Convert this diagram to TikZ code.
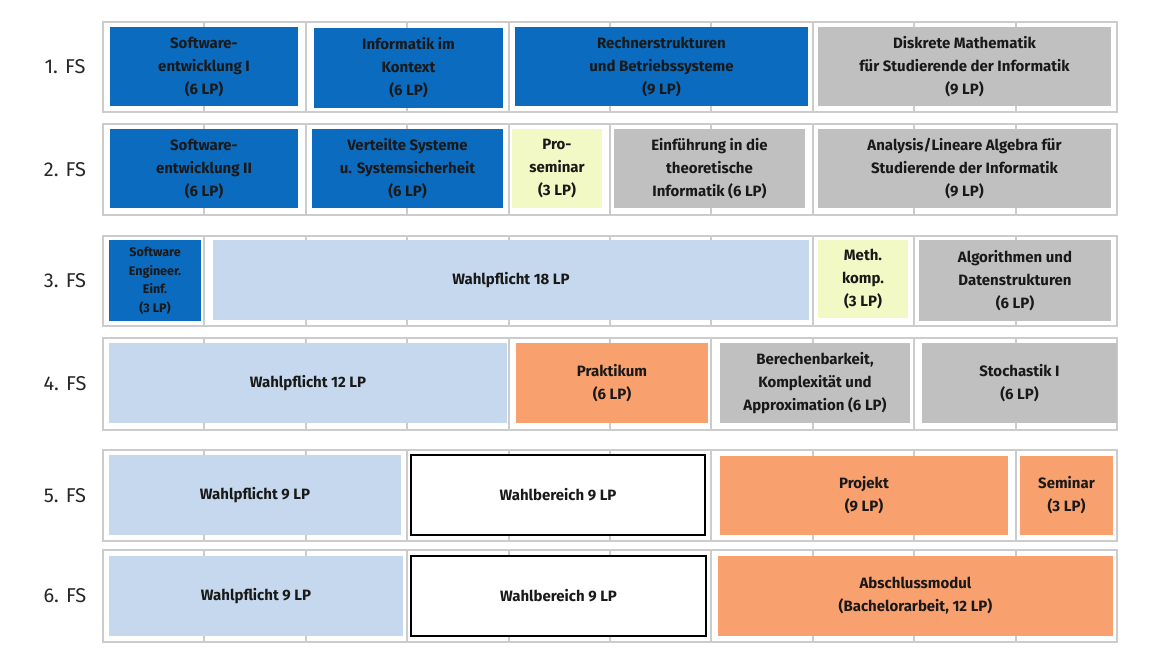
\documentclass[tikz,border=0pt]{standalone}
\usepackage{fontspec}
\setmainfont{Fira Sans}
\begin{document}
\begin{tikzpicture}[x=1pt,y=-1pt,
  bx/.style={draw=none,inner sep=0pt,align=center,font=\fontsize{15}{23}\selectfont\bfseries,text=black!90},
  blu/.style={bx,fill=blue1},
  lbl/.style={bx,fill=lblue},
  gry/.style={bx,fill=gray1},
  yel/.style={bx,fill=yel1},
  org/.style={bx,fill=org1},
  wht/.style={bx,fill=white,draw=black,line width=1.2pt},
  fs/.style={font=\fontsize{20}{24}\selectfont,text=black!85},
  grid/.style={draw=gray!40,line width=2pt}]
\definecolor{blue1}{HTML}{0A6BBF}
\definecolor{lblue}{HTML}{C5D8EE}
\definecolor{gray1}{HTML}{C0C0C0}
\definecolor{yel1}{HTML}{F2F9C4}
\definecolor{org1}{HTML}{F9A06F}
\useasboundingbox (0,0) rectangle (1160,664);
\newcommand\bx[7]{\node[#2, minimum width={(#5-#3)*1pt}, minimum height={(#6-#4)*1pt}] (#1) at ({(#3+#5)/2},{(#4+#6)/2}) {#7};}
\newcommand\rowgrid[3]{%
  \draw[grid] (103,#1) rectangle (1117,#2);
  \foreach \k in {1,...,9}{\draw[grid] ({103+101.4*\k},#1) -- ({103+101.4*\k},#2);}
  \node[fs] (#3) at (65,{(#1+#2)/2}) {#3};}
\rowgrid{22}{112}{1. FS}
\rowgrid{124}{215}{2. FS}
\rowgrid{236}{326}{3. FS}
\rowgrid{338}{430}{4. FS}
\rowgrid{450}{541}{5. FS}
\rowgrid{550}{642}{6. FS}
% row 1
\bx{a1}{blu}{110}{27}{298}{106}{Software-\\entwicklung I\\(6 LP)}
\bx{a2}{blu}{314}{28}{503}{108}{Informatik im\\Kontext\\(6 LP)}
\bx{a3}{blu}{515}{27}{808}{106}{Rechnerstrukturen\\und Betriebssysteme\\(9 LP)}
\bx{a4}{gry}{818}{27}{1111}{106}{Diskrete Mathematik\\für Studierende der Informatik\\(9 LP)}
% row 2
\bx{b1}{blu}{110}{129}{298}{208}{Software-\\entwicklung II\\(6 LP)}
\bx{b2}{blu}{312}{129}{503}{208}{Verteilte Systeme\\u. Systemsicherheit\\(6 LP)}
\bx{b3}{yel}{512}{129}{602}{208}{Pro-\\seminar\\(3 LP)}
\bx{b4}{gry}{614}{129}{805}{208}{Einführung in die\\theoretische\\Informatik (6 LP)}
\bx{b5}{gry}{818}{129}{1111}{208}{Analysis/Lineare Algebra für\\Studierende der Informatik\\(9 LP)}
% row 3
\bx{c1}{blu,font=\fontsize{12.5}{18.5}\selectfont\bfseries}{109}{240}{201}{321}{Software\\Engineer.\\Einf.\\(3 LP)}
\bx{c2}{lbl}{213}{240}{809}{320}{Wahlpflicht 18 LP}
\bx{c3}{yel}{818}{240}{908}{318}{Meth.\\komp.\\(3 LP)}
\bx{c4}{gry}{919}{240}{1111}{321}{Algorithmen und\\Datenstrukturen\\(6 LP)}
% row 4
\bx{d1}{lbl}{109}{343}{507}{423}{Wahlpflicht 12 LP}
\bx{d2}{org}{516}{343}{708}{423}{Praktikum\\(6 LP)}
\bx{d3}{gry}{720}{343}{910}{423}{Berechenbarkeit,\\Komplexität und\\Approximation (6 LP)}
\bx{d4}{gry}{922}{343}{1117}{423}{Stochastik I\\(6 LP)}
% row 5
\bx{e1}{lbl}{109}{455}{401}{535}{Wahlpflicht 9 LP}
\bx{e2}{wht}{411}{455}{705}{535}{Wahlbereich 9 LP}
\bx{e3}{org}{720}{456}{1008}{535}{Projekt\\(9 LP)}
\bx{e4}{org}{1020}{456}{1113}{535}{Seminar\\(3 LP)}
% row 6
\bx{f1}{lbl}{109}{556}{403}{636}{Wahlpflicht 9 LP}
\bx{f2}{wht}{411}{556}{706}{636}{Wahlbereich 9 LP}
\bx{f3}{org}{718}{556}{1113}{636}{Abschlussmodul\\(Bachelorarbeit, 12 LP)}
\end{tikzpicture}
\end{document}
